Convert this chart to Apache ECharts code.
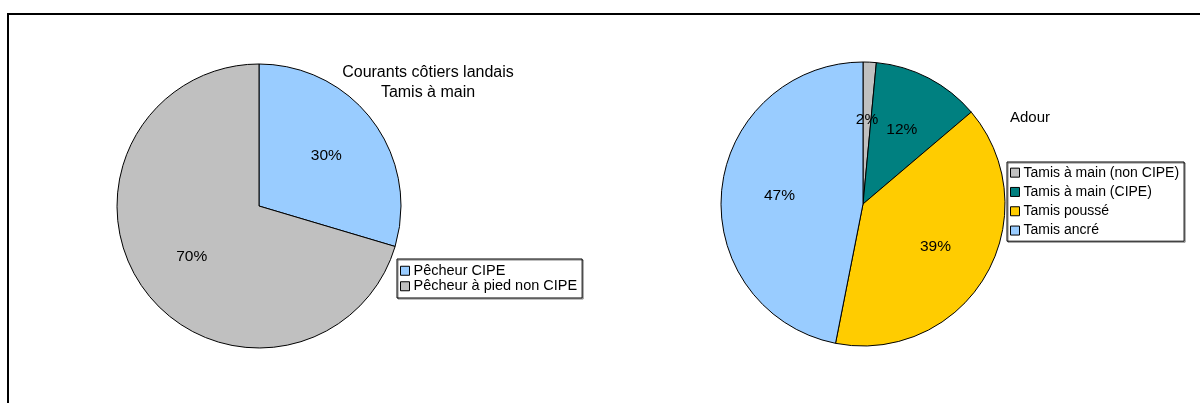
<!DOCTYPE html>
<html>
<head>
<meta charset="utf-8">
<script src="https://cdn.jsdelivr.net/npm/echarts@6/dist/echarts.min.js"></script>
<style>
  html, body { margin: 0; padding: 0; background: #fff; }
  #chart { width: 1200px; height: 403px; }
</style>
</head>
<body>
<div id="chart"></div>
<script>
// Courants côtiers landais - Tamis à main
var landaisNames = ['Pêcheur CIPE', 'Pêcheur à pied non CIPE'];
var landaisValues = [29.6, 70.4];
var landaisColors = ['#99CCFF', '#C0C0C0'];

// Adour
var adourNames = ['Tamis à main (non CIPE)', 'Tamis à main (CIPE)', 'Tamis poussé', 'Tamis ancré'];
var adourValues = [1.5, 12.3, 39.3, 46.9];
var adourColors = ['#C0C0C0', '#008080', '#FFCC00', '#99CCFF'];

var FONT = 'Liberation Sans, Arial, sans-serif';

function buildData(names, values, colors, hidden) {
    return names.map(function(n, i) {
        return {
            name: n,
            value: values[i],
            itemStyle: hidden ? { color: 'rgba(0,0,0,0)', borderWidth: 0 } : { color: colors[i] }
        };
    });
}

function pieSeries(center, names, values, colors) {
    // pie visible
    var pie = {
        type: 'pie',
        center: center,
        radius: 142,
        startAngle: 90,
        clockwise: true,
        label: { show: false },
        labelLine: { show: false },
        itemStyle: { borderColor: '#000', borderWidth: 1 },
        emphasis: { disabled: true },
        animation: false,
        data: buildData(names, values, colors, false)
    };
    // meme pie, transparent, juste pour placer les etiquettes un peu plus loin du centre
    var labels = {
        type: 'pie',
        center: center,
        radius: [20, 142],
        startAngle: 90,
        clockwise: true,
        silent: true,
        z: 3,
        label: {
            show: true,
            position: 'inside',
            color: '#000',
            fontFamily: FONT,
            fontSize: 15.5,
            formatter: function(p) { return Math.round(p.percent) + '%'; }
        },
        labelLine: { show: false },
        emphasis: { disabled: true },
        animation: false,
        data: buildData(names, values, colors, true)
    };
    return [pie, labels];
}

var chart = echarts.init(document.getElementById('chart'));

var option = {
    backgroundColor: '#fff',
    animation: false,
    graphic: [{
        type: 'rect',
        shape: { x: 8, y: 14, width: 1300, height: 500 },
        style: { fill: 'none', stroke: '#000', lineWidth: 2 },
        silent: true
    }],
    title: [{
        text: 'Courants côtiers landais\nTamis à main',
        left: 428,
        top: 63,
        padding: 0,
        textAlign: 'center',
        textStyle: { fontFamily: FONT, fontSize: 16, fontWeight: 'normal', color: '#000', lineHeight: 19.5 }
    }, {
        text: 'Adour',
        left: 1010,
        top: 108,
        padding: 0,
        textStyle: { fontFamily: FONT, fontSize: 15, fontWeight: 'normal', color: '#000', lineHeight: 19 }
    }],
    legend: [{
        data: landaisNames,
        orient: 'vertical',
        left: 397,
        top: 259,
        padding: [4, 5, 4, 3],
        itemWidth: 9,
        itemHeight: 9,
        itemGap: 0,
        icon: 'rect',
        selectedMode: false,
        borderColor: '#000',
        borderWidth: 1,
        borderRadius: 0,
        shadowColor: 'rgba(0,0,0,0.5)',
        shadowOffsetX: 1,
        shadowOffsetY: 1,
        itemStyle: { borderColor: '#000', borderWidth: 1 },
        textStyle: { fontFamily: FONT, fontSize: 14.5, color: '#000', lineHeight: 15.5, padding: [0, 0, 0, -1] }
    }, {
        data: adourNames,
        orient: 'vertical',
        left: 1007,
        top: 162,
        padding: [1, 5, 1, 3],
        itemWidth: 9,
        itemHeight: 9,
        itemGap: 0,
        icon: 'rect',
        selectedMode: false,
        borderColor: '#000',
        borderWidth: 1,
        borderRadius: 0,
        shadowColor: 'rgba(0,0,0,0.5)',
        shadowOffsetX: 1,
        shadowOffsetY: 1,
        itemStyle: { borderColor: '#000', borderWidth: 1 },
        textStyle: { fontFamily: FONT, fontSize: 14, color: '#000', lineHeight: 19.3, padding: [0, 0, 0, -1] }
    }],
    series: pieSeries([259, 206], landaisNames, landaisValues, landaisColors)
        .concat(pieSeries([863, 204], adourNames, adourValues, adourColors))
};

chart.setOption(option);
</script>
</body>
</html>
